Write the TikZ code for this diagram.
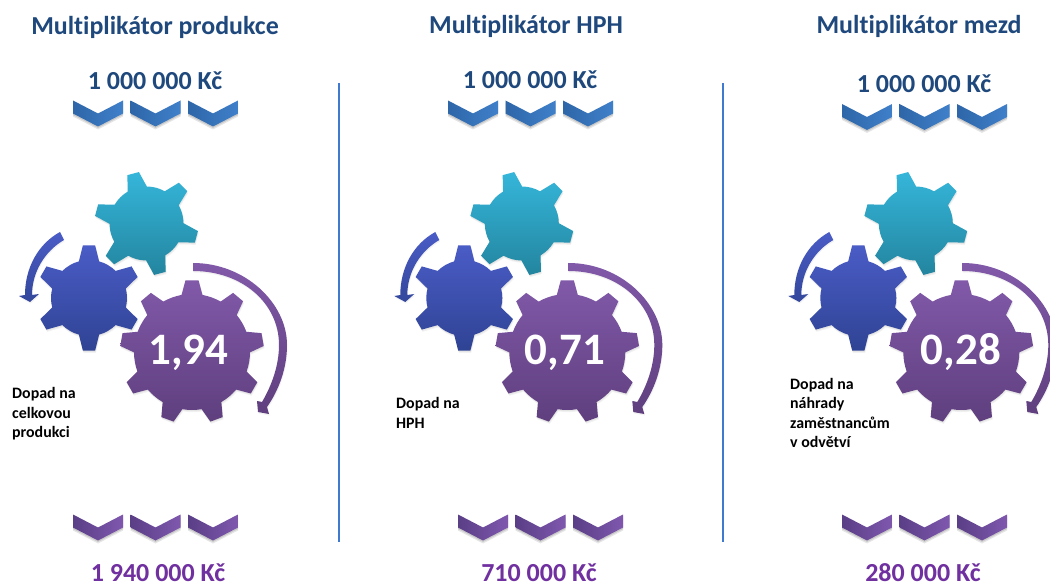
\documentclass[tikz,border=0pt]{standalone}
\usepackage{fontspec}
\setmainfont[Ligatures=NoCommon]{Carlito}
\definecolor{titleblue}{HTML}{1F497D}
\definecolor{valpurple}{HTML}{7030A0}
\definecolor{rulecol}{HTML}{3F7AD0}
\definecolor{tealA}{HTML}{35B6DA}
\definecolor{tealB}{HTML}{23859F}
\definecolor{blueA}{HTML}{4A5CC6}
\definecolor{blueB}{HTML}{2F4394}
\definecolor{purA}{HTML}{8159A9}
\definecolor{purB}{HTML}{5F3F7E}
\definecolor{chbA}{HTML}{2E66A8}
\definecolor{chbB}{HTML}{3F80CA}
\definecolor{chpA}{HTML}{5A3E86}
\definecolor{chpB}{HTML}{7F58AE}
\tikzset{
  maintitle/.style={font=\bfseries\fontsize{25.9}{30}\selectfont,text=titleblue,inner sep=0pt},
  topvalue/.style={font=\bfseries\fontsize{26}{30}\selectfont,text=titleblue,inner sep=0pt},
  botvalue/.style={font=\bfseries\fontsize{26}{30}\selectfont,text=valpurple,inner sep=0pt},
  gearnum/.style={font=\bfseries\fontsize{45}{50}\selectfont,text=white,inner sep=0pt},
  sidelabel/.style={font=\bfseries\fontsize{15.9}{19.5}\selectfont,text=black,inner sep=0pt,align=left,anchor=north west},
  softshadow/.style={fill=black,fill opacity=0.05,draw=none},
  divider/.style={draw=rulecol,line width=1.4pt}
}
% gear outline: outer radius, root radius, teeth, first tooth angle, half tip angle, half base angle
\newcommand{\gearoutline}[6]{%
  ({#4+#6}:#2)
  \foreach \k [evaluate=\k as \a using #4+\k*360/#3] in {1,...,#3}{
    arc[start angle={\a-360/#3+#6},end angle={\a-#6},radius=#2]
    -- ({\a-#5}:#1) -- ({\a+#5}:#1) -- ({\a+#6}:#2)
  } -- cycle}
\newcommand{\gearat}[8]{%
  \begin{scope}[shift={(#1)},y=1pt]
    \fill[softshadow,shift={(0.8pt,-2.2pt)}] \gearoutline{#2}{#3}{#4}{#5}{#6}{#7};
    \fill[softshadow,shift={(0.4pt,-1.2pt)}] \gearoutline{#2}{#3}{#4}{#5}{#6}{#7};
    \shade[#8] \gearoutline{#2}{#3}{#4}{#5}{#6}{#7};
  \end{scope}}
\newcommand{\chevronpath}{(0,0) -- (25,13) -- (50,0) -- (50,13) -- (25,26) -- (0,13) -- cycle}
\newcommand{\chevrons}[4]{%
  \foreach \dx in {0,57.5,115}{
    \begin{scope}[shift={({#1+\dx},#2)}]
      \fill[softshadow,fill opacity=0.10,shift={(0,3)}] \chevronpath;
      \fill[softshadow,fill opacity=0.12,shift={(0,1.5)}] \chevronpath;
      \shade[left color=#3,right color=#4] \chevronpath;
    \end{scope}}}
\newcommand{\gearset}[3]{%
  \begin{scope}[shift={(#1,0)}]
    \gearat{146.5,223.5}{52}{37}{6}{105}{6.6}{15.5}{top color=tealA,bottom color=tealB}
    \gearat{89,298}{53}{38}{6}{90}{6.6}{15.5}{top color=blueA,bottom color=blueB}
    \gearat{192,352}{72}{58}{9}{90}{5.2}{10.4}{top color=purA,bottom color=purB}
    \fill[softshadow,shift={(0.6,1.5)}] (60,232) .. controls (38,244) and (25,268) .. (25,295) -- (19,296) -- (30,302) -- (39,294) -- (32,295) .. controls (32,272) and (45,251) .. (64,240) -- cycle;
    \shade[top color=blueA,bottom color=blueB!85!blueA] (60,232) .. controls (38,244) and (25,268) .. (25,295) -- (19,296) -- (30,302) -- (39,294) -- (32,295) .. controls (32,272) and (45,251) .. (64,240) -- cycle;
    \fill[softshadow,shift={(0.6,1.5)}] (193,263) .. controls (245,263) and (287,303) .. (287,345) .. controls (287,368) and (279,390) .. (267,407) -- (269,414) -- (258,412) -- (257,401) -- (262,402) .. controls (272,385) and (279,365) .. (279,345) .. controls (279,303) and (242,271) .. (193,271) -- cycle;
    \shade[top color=purA,bottom color=purB] (193,263) .. controls (245,263) and (287,303) .. (287,345) .. controls (287,368) and (279,390) .. (267,407) -- (269,414) -- (258,412) -- (257,401) -- (262,402) .. controls (272,385) and (279,365) .. (279,345) .. controls (279,303) and (242,271) .. (193,271) -- cycle;
    \node[gearnum] (num#2) at (#3,352.5) {#2};
  \end{scope}}
\begin{document}
\begin{tikzpicture}[x=1pt,y=-1pt]
\useasboundingbox (0,0) rectangle (1050,585);
\fill[white] (0,0) rectangle (1050,585);
\coordinate (ruleAtop) at (339,83);
\coordinate (ruleAbot) at (339,542);
\coordinate (ruleBtop) at (723,83);
\coordinate (ruleBbot) at (723,542);
\draw[divider] (ruleAtop) -- (ruleAbot);
\draw[divider] (ruleBtop) -- (ruleBbot);
% titles
\node[maintitle] (titleA) at (155,27) {Multiplikátor produkce};
\node[maintitle] (titleB) at (526,26) {Multiplikátor HPH};
\node[maintitle] (titleC) at (919,26) {Multiplikátor mezd};
% values
\node[topvalue] (topA) at (155,81) {1 000 000 Kč};
\node[topvalue] (topB) at (530,80) {1 000 000 Kč};
\node[topvalue] (topC) at (924,84) {1 000 000 Kč};
\node[botvalue] (botA) at (158,573) {1 940 000 Kč};
\node[botvalue] (botB) at (539,573) {710 000 Kč};
\node[botvalue] (botC) at (923,573) {280 000 Kč};
% chevrons
\chevrons{73}{100.5}{chbA}{chbB}
\chevrons{448}{100.5}{chbA}{chbB}
\chevrons{842}{104}{chbA}{chbB}
\chevrons{73}{514.5}{chpA}{chpB}
\chevrons{458}{514.5}{chpA}{chpB}
\chevrons{842}{514.5}{chpA}{chpB}
% gears
\gearset{0}{1,94}{188.5}
\gearset{375.3}{0,71}{189.5}
\gearset{769.3}{0,28}{191.5}
% labels
\node[sidelabel] (labA) at (12,387.5) {Dopad na\\celkovou\\produkci};
\node[sidelabel] (labB) at (396,397.5) {Dopad na\\HPH};
\node[sidelabel] (labC) at (790,378) {Dopad na\\náhrady\\zaměstnancům\\v odvětví};
\end{tikzpicture}
\end{document}
